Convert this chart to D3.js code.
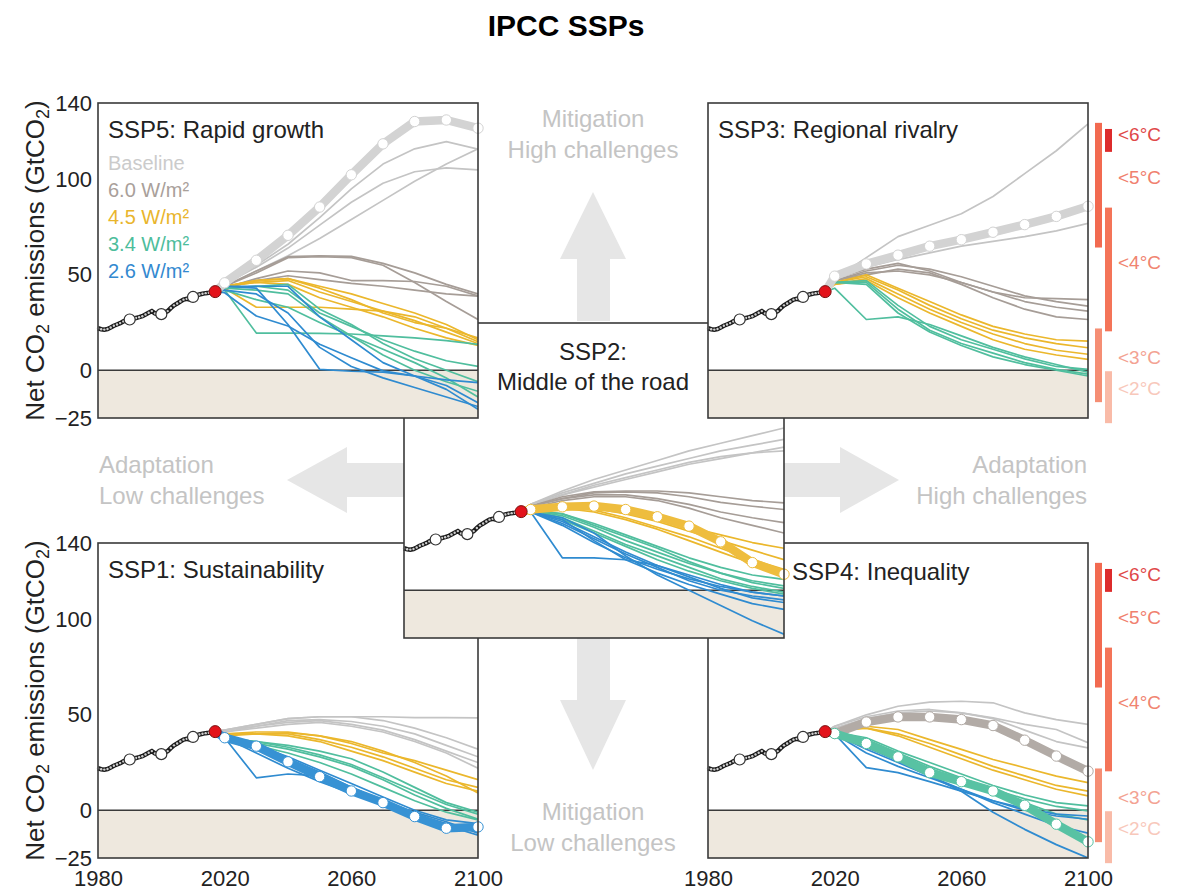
<!DOCTYPE html>
<html>
<head>
<meta charset="utf-8">
<script src="https://cdn.jsdelivr.net/npm/d3@7"></script>
<style>
  body { margin: 0; background: #fff; }
  svg { display: block; }
  text { font-family: 'Liberation Sans', Arial, sans-serif; }
</style>
</head>
<body>
<svg id="chart" width="1183" height="895"></svg>
<script>
// Data: decades of the scenario runs
const years = [2020, 2030, 2040, 2050, 2060, 2070, 2080, 2090, 2100];

// historical net CO2 (GtCO2), one value a year from 1980 to 2017
const histValues = [
    22.0, 21.5, 21.3, 21.6, 22.4, 23.3, 24.0, 24.7, 25.6, 26.2,
    26.6, 27.0, 27.4, 27.8, 28.3, 29.2, 30.1, 31.0, 29.8, 29.3,
    29.4, 30.1, 31.0, 32.6, 34.0, 35.0, 36.0, 37.0, 37.4, 37.0,
    38.4, 39.2, 39.7, 40.1, 40.4, 40.6, 40.9, 41.2
];
const histYears = histValues.map((v, i) => 1980 + i);
const histMarks = [1990, 2000, 2010];

const forcingKeys = ['base', '6.0', '4.5', '3.4', '2.6'];
const legendLabels = ['Baseline', '6.0 W/m²', '4.5 W/m²', '3.4 W/m²', '2.6 W/m²'];

const yTicks = [140, 100, 50, 0, -25];
const xTicks = [1980, 2020, 2060, 2100];

// m: 1 marks the highlighted (marker) pathway of the panel
const ssp5Rows = [
    { f: 'base', m: 1, v: [45.8, 57.6, 70.7, 85.5, 102.4, 118.6, 130.3, 131.1, 126.8] },
    { f: 'base', v: [45, 55, 66, 80, 95, 108, 116, 119.8, 115.8] },
    { f: 'base', v: [45, 54, 64, 76, 88, 98, 104, 106, 105] },
    { f: 'base', v: [44, 52, 60, 69, 79, 89, 99, 108, 116] },
    { f: '6.0', v: [44, 52, 59.5, 60, 59.7, 56, 51, 45, 40] },
    { f: '6.0', v: [44, 51, 59, 59.5, 59, 55, 46, 36, 26.6] },
    { f: '6.0', v: [43, 48, 52, 51, 47, 47, 46.5, 44, 39] },
    { f: '6.0', v: [43, 47, 49.5, 47.5, 45.5, 44, 42, 40, 38.8] },
    { f: '4.5', v: [44, 47, 48, 44, 40, 35, 30, 24, 16] },
    { f: '4.5', v: [44, 46, 47, 41, 36, 31, 26, 20, 14] },
    { f: '4.5', v: [43, 33, 33, 33, 32, 31, 28, 22, 15] },
    { f: '4.5', v: [44, 46, 45, 38, 33, 28, 22, 17, 13] },
    { f: '4.5', v: [44, 47, 48, 43, 37, 30, 25, 22, 17] },
    { f: '3.4', v: [42, 19.5, 19.5, 19.3, 19, 18, 17, 15.5, 13.6] },
    { f: '3.4', v: [43, 44, 42, 30, 23, 16, 10, 5, 2] },
    { f: '3.4', v: [43, 44, 45, 32, 24, 14, 6, 0, -6] },
    { f: '3.4', v: [43, 42, 40, 28, 18, 8, 0, -6, -11] },
    { f: '3.4', v: [42, 37, 33, 25, 18, 11, 4, -4, -14] },
    { f: '2.6', v: [40.6, 28.4, 23.2, 13.6, 6.6, -0.3, -3, -8, -17] },
    { f: '2.6', v: [44, 43, 24, 0.5, -0.5, -1, -3, -5, -6.5] },
    { f: '2.6', v: [44, 44, 44, 28, 16, 4, -3, -10, -20.4] },
    { f: '2.6', v: [42, 40, 30, 12, 2, -4, -9, -14, -19] }
];

const ssp3Rows = [
    { f: 'base', m: 1, v: [49.3, 55.7, 60.3, 65, 68.4, 72.3, 76.3, 80.6, 85.9] },
    { f: 'base', v: [48, 59, 70, 76, 82, 91, 103, 115, 129] },
    { f: 'base', v: [48, 54, 58, 61.5, 65, 67.5, 70, 73, 77] },
    { f: '6.0', v: [48, 53, 56, 52, 46, 41, 38, 37.5, 37] },
    { f: '6.0', v: [47, 52, 55, 53, 49, 44, 39, 36, 33.6] },
    { f: '6.0', v: [47, 51, 52, 50, 46, 41, 36, 33, 31] },
    { f: '6.0', v: [47, 50, 53, 51, 45, 38, 32, 28, 26.6] },
    { f: '4.5', v: [46, 50, 43, 36, 29, 23, 19, 16, 15.3] },
    { f: '4.5', v: [46, 49, 42, 34, 27, 21, 17, 14, 11.8] },
    { f: '4.5', v: [45, 48, 40, 32, 25, 19, 14, 10.5, 8.4] },
    { f: '4.5', v: [45, 47, 38, 30, 23, 16, 11, 8, 5.7] },
    { f: '3.4', v: [43, 26.6, 28, 24, 18, 12, 7, 3, -1] },
    { f: '3.4', v: [46, 47, 34, 23, 16, 11, 6, 2, 0.5] },
    { f: '3.4', v: [46, 46, 32, 21, 14, 9, 4, 0.5, -2] },
    { f: '3.4', v: [46, 45, 30, 20, 13, 7, 3, 0, -3] }
];

const ssp2Rows = [
    { f: 'base', v: [45, 52, 58, 63, 68, 73, 77, 81, 85] },
    { f: 'base', v: [45, 51, 56, 61, 65, 69, 73, 76, 79] },
    { f: 'base', v: [45, 50, 55, 59, 63, 67, 70, 72, 73] },
    { f: 'base', v: [44, 50, 54, 58, 62, 66, 69, 72, 75] },
    { f: '6.0', v: [44, 49, 51.5, 52, 52, 51, 49, 47, 45.8] },
    { f: '6.0', v: [44, 48, 51, 51.5, 51, 49, 46, 44, 42.3] },
    { f: '6.0', v: [44, 48, 50, 50, 48, 45, 41, 38, 35.4] },
    { f: '6.0', v: [43, 47, 49, 49, 47, 43, 38, 34, 30] },
    { f: '4.5', m: 1, v: [42.3, 43.7, 44.1, 42.3, 38.5, 33.6, 25.4, 14.5, 8.4] },
    { f: '4.5', v: [43, 44, 43, 40, 36, 31, 26, 21, 16] },
    { f: '4.5', v: [43, 44, 42, 38, 33, 28, 22, 16, 11] },
    { f: '4.5', v: [42, 43, 41, 37, 32, 26, 20, 14, 9] },
    { f: '4.5', v: [43, 45, 44, 41, 37, 33, 29, 25, 22] },
    { f: '3.4', v: [42, 40, 35, 29, 23, 17, 12, 8, 5.7] },
    { f: '3.4', v: [42, 39, 33, 26, 20, 14, 9, 5, 2.3] },
    { f: '3.4', v: [42, 38, 31, 24, 18, 12, 6, 2, -1] },
    { f: '3.4', v: [42, 40, 34, 28, 22, 15, 9, 4, 1] },
    { f: '3.4', v: [41, 37, 30, 23, 16, 10, 5, 1, -2] },
    { f: '2.6', v: [41, 17, 17, 16, 13, 8, 3, -1, -3] },
    { f: '2.6', v: [41, 36, 28, 20, 13, 7, 1, -4, -6.4] },
    { f: '2.6', v: [41, 37, 26, 16, 9, 3, -2, -7, -10] },
    { f: '2.6', v: [41, 38, 30, 18, 8, 0, -8, -16, -23] },
    { f: '2.6', v: [41, 34, 25, 17, 11, 6, 2, -1, -3] },
    { f: '2.6', v: [41, 35, 27, 19, 12, 5, 0, -3, -5] }
];

const ssp1Rows = [
    { f: 'base', v: [42, 45, 48, 49, 49, 49, 48.5, 48.5, 48.4] },
    { f: 'base', v: [42, 45, 48, 49, 49, 47, 43, 38, 32] },
    { f: 'base', v: [42, 44, 47, 47.5, 46.5, 44, 40, 34, 28] },
    { f: 'base', v: [41, 44, 46, 47, 45, 42, 37, 31, 25] },
    { f: 'base', v: [41, 43, 45, 46, 44, 41, 36, 30, 22] },
    { f: '4.5', v: [40, 40, 40.6, 39, 36, 31, 25, 18, 9] },
    { f: '4.5', v: [40, 41, 41, 39, 35, 30, 26, 21, 16] },
    { f: '4.5', v: [39, 40, 40, 37, 33, 28, 22, 16, 12] },
    { f: '4.5', v: [40, 40, 39, 36, 31, 26, 20, 14, 10] },
    { f: '3.4', v: [38, 36, 34, 31, 27, 20, 12, 4, -1] },
    { f: '3.4', v: [38, 35, 32, 28, 23, 16, 8, 1, -4.7] },
    { f: '3.4', v: [38, 36, 33, 29, 24, 17, 10, 3, -2] },
    { f: '3.4', v: [38, 34, 30, 25, 19, 12, 5, -1, -5] },
    { f: '2.6', m: 1, v: [38, 33.6, 25.4, 17.6, 10.1, 4, -3.3, -9.4, -8.7] },
    { f: '2.6', v: [38, 17, 19, 18, 12, 5, -2, -7, -10] },
    { f: '2.6', v: [38, 33, 27, 20, 12, 5, -1, -6, -12] },
    { f: '2.6', v: [38, 30, 22, 15, 9, 3, -3, -8, -13] },
    { f: '2.6', v: [38, 34, 28, 21, 14, 7, 0, -5, -7] }
];

const ssp4Rows = [
    { f: 'base', v: [44, 50, 54.5, 56.6, 57.1, 56.3, 51, 47.5, 45] },
    { f: 'base', v: [44, 49, 52, 52.8, 51, 48.4, 45, 42.3, 35.4] },
    { f: 'base', v: [43, 48, 51, 52, 51, 48, 42, 36, 32.7] },
    { f: '6.0', m: 1, v: [40.2, 46.2, 48.9, 48.9, 47.5, 44.4, 36.7, 28.4, 20.5] },
    { f: '4.5', v: [42, 44, 42.3, 37, 31.9, 26.6, 22.3, 17.9, 14.5] },
    { f: '4.5', v: [42, 43, 39, 33, 27, 21, 16, 11, 7.5] },
    { f: '4.5', v: [42, 43, 40, 35, 29, 23, 18, 13, 10] },
    { f: '3.4', m: 1, v: [40.2, 35, 28, 19.7, 15, 10.1, 2.6, -7.3, -16.5] },
    { f: '3.4', v: [41, 38, 31, 25, 19, 13, 8, 4, 2.3] },
    { f: '3.4', v: [41, 37, 30, 23, 17, 11, 6, 2, -0.3] },
    { f: '3.4', v: [41, 36, 29, 22, 16, 10, 4, -2, -5] },
    { f: '2.6', v: [40, 22.3, 19.7, 15, 10, 5, 1, -2, -3] },
    { f: '2.6', v: [40, 30, 23, 17, 11, 5, 0, -3, -4.7] },
    { f: '2.6', v: [40, 32, 25, 18, 11, 4, -2, -8, -12] },
    { f: '2.6', v: [40, 33, 26, 18, 10, -1, -10, -18, -25] }
];

// warming bands on the emission scale (GtCO2), highest class first
const tempOrder = ['<6°C', '<5°C', '<4°C', '<3°C', '<2°C'];
const tempBarHigh = [126.4, 129.6, 85.2, 21.9, -0.5];
const tempBarLow = [114.4, 64.3, 20.4, -16.7, -27.7];
const tempLabelAt = [123.8, 100.8, 56.4, 6.8, -9.4];

// Styles
const colors = { 'base': '#c4c4c4', '6.0': '#a69d97', '4.5': '#ebb72c', '3.4': '#50be9e', '2.6': '#2f8bd0' };
const markerColors = { 'base': '#d3d3d3', '6.0': '#b2aba6', '4.5': '#eebd3e', '3.4': '#58c2a3', '2.6': '#3792d4' };
const legendColors = { 'base': '#cbcbcb', '6.0': '#a9a09a', '4.5': '#e9b52c', '3.4': '#4dbd9c', '2.6': '#3389d0' };
const tempBarColors = { '<6°C': '#dd2b2b', '<5°C': '#f26a50', '<4°C': '#f47458', '<3°C': '#f58e74', '<2°C': '#f9bba8' };
const tempTextColors = { '<6°C': '#e04848', '<5°C': '#f0806e', '<4°C': '#f08470', '<3°C': '#f3a292', '<2°C': '#f8c8bb' };

const svg = d3.select('#chart');
const pw = 380, ph = 315;

const x = d3.scaleLinear().domain([1980, 2100]).range([0, pw]);
const y = d3.scaleLinear().domain([-25, 140]).range([ph, 0]);
const line = d3.line().x(d => x(d[0])).y(d => y(d[1]));

const hist = histYears.map((yr, i) => [yr, histValues[i]]);
const start = hist[hist.length - 1];
const rowPoints = r => [start, ...years.map((yr, i) => [yr, r.v[i]])];

// Big arrows in the gaps
const arrowColor = '#e6e6e6';
const arrows = [
    [[577, 321], [577, 259], [560, 259], [593, 192], [626, 259], [610, 259], [610, 321]],
    [[577, 637], [577, 700], [560, 700], [593, 770], [626, 700], [610, 700], [610, 637]],
    [[405, 463], [347, 463], [347, 447], [287, 480], [347, 513], [347, 497], [405, 497]],
    [[782, 463], [840, 463], [840, 447], [899, 480], [840, 513], [840, 497], [782, 497]]
];
svg.selectAll('polygon.arrow').data(arrows).enter().append('polygon')
    .attr('class', 'arrow')
    .attr('points', d => d.map(p => p.join(',')).join(' '))
    .attr('fill', arrowColor);

const arrowText = [
    { t: 'Mitigation', x: 593, y: 127, a: 'middle' },
    { t: 'High challenges', x: 593, y: 158, a: 'middle' },
    { t: 'Mitigation', x: 593, y: 820, a: 'middle' },
    { t: 'Low challenges', x: 593, y: 851, a: 'middle' },
    { t: 'Adaptation', x: 99, y: 473, a: 'start' },
    { t: 'Low challenges', x: 99, y: 504, a: 'start' },
    { t: 'Adaptation', x: 1087, y: 473, a: 'end' },
    { t: 'High challenges', x: 1087, y: 504, a: 'end' }
];
svg.selectAll('text.arrow-label').data(arrowText).enter().append('text')
    .attr('class', 'arrow-label')
    .attr('x', d => d.x).attr('y', d => d.y)
    .attr('text-anchor', d => d.a)
    .attr('font-size', 24)
    .attr('fill', '#c4c4c4')
    .text(d => d.t);

function drawPanel(id, tx, ty, rows) {
    const g = svg.append('g').attr('transform', `translate(${tx},${ty})`);

    g.append('rect').attr('width', pw).attr('height', ph).attr('fill', '#fff');
    g.append('rect')
        .attr('y', y(0)).attr('width', pw).attr('height', y(-25) - y(0))
        .attr('fill', '#eee8de');
    g.append('line')
        .attr('x1', 0).attr('x2', pw).attr('y1', y(0)).attr('y2', y(0))
        .attr('stroke', '#3a3a3a').attr('stroke-width', 1.5);

    g.append('clipPath').attr('id', 'clip-' + id)
        .append('rect').attr('width', pw).attr('height', ph);

    const lines = g.append('g').attr('clip-path', `url(#clip-${id})`);
    forcingKeys.forEach(k => {
        lines.selectAll(null)
            .data(rows.filter(r => r.f === k && !r.m))
            .enter().append('path')
            .attr('d', r => line(rowPoints(r)))
            .attr('fill', 'none')
            .attr('stroke', colors[k])
            .attr('stroke-width', 1.7)
            .attr('stroke-linejoin', 'round');
    });

    // marker pathways: thick band with white dots each decade
    rows.filter(r => r.m).forEach(r => {
        g.append('path')
            .attr('d', line(rowPoints(r)))
            .attr('fill', 'none')
            .attr('stroke', markerColors[r.f])
            .attr('stroke-width', 8.5)
            .attr('stroke-linejoin', 'round')
            .attr('stroke-linecap', 'round');
        g.selectAll(null)
            .data(years.map((yr, i) => [yr, r.v[i]]))
            .enter().append('circle')
            .attr('cx', d => x(d[0])).attr('cy', d => y(d[1]))
            .attr('r', 5.2)
            .attr('fill', '#fff')
            .attr('stroke', markerColors[r.f])
            .attr('stroke-width', 1);
    });

    // history
    g.append('path')
        .attr('d', line(hist))
        .attr('fill', 'none')
        .attr('stroke', '#1c1c1c')
        .attr('stroke-width', 4.5);
    g.selectAll(null).data(hist).enter().append('circle')
        .attr('cx', d => x(d[0])).attr('cy', d => y(d[1]))
        .attr('r', 1.2)
        .attr('fill', '#cfcfcf');
    g.selectAll(null).data(hist.filter(d => histMarks.includes(d[0]))).enter().append('circle')
        .attr('cx', d => x(d[0])).attr('cy', d => y(d[1]))
        .attr('r', 5.5)
        .attr('fill', '#fff')
        .attr('stroke', '#333')
        .attr('stroke-width', 1.2);
    g.append('circle')
        .attr('cx', x(start[0])).attr('cy', y(start[1]))
        .attr('r', 6)
        .attr('fill', '#e3131b')
        .attr('stroke', '#7a1010')
        .attr('stroke-width', 1);

    g.append('rect')
        .attr('width', pw).attr('height', ph)
        .attr('fill', 'none')
        .attr('stroke', '#3a3a3a')
        .attr('stroke-width', 1.6);

    return g;
}

function panelTitle(g, t) {
    g.append('text')
        .attr('x', 10).attr('y', 35)
        .attr('font-size', 24)
        .attr('fill', '#222')
        .text(t);
}

function yAxis(g) {
    const ax = g.append('g')
        .call(d3.axisLeft(y).tickValues(yTicks).tickSize(0).tickPadding(6));
    ax.select('.domain').remove();
    ax.selectAll('text')
        .attr('font-size', 22)
        .attr('font-family', "'Liberation Sans', Arial, sans-serif")
        .attr('fill', '#222');
}

function xAxis(g) {
    const ax = g.append('g')
        .attr('transform', `translate(0,${ph})`)
        .call(d3.axisBottom(x).tickValues(xTicks).tickSize(0).tickPadding(12).tickFormat(d3.format('d')));
    ax.select('.domain').remove();
    ax.selectAll('text')
        .attr('font-size', 22)
        .attr('font-family', "'Liberation Sans', Arial, sans-serif")
        .attr('fill', '#222');
}

function tempScale(g) {
    const colX = [387, 397];
    g.selectAll(null).data(tempOrder).enter().append('rect')
        .attr('x', (d, i) => colX[i % 2 === 0 ? 1 : 0])
        .attr('y', (d, i) => y(tempBarHigh[i]))
        .attr('width', 7)
        .attr('height', (d, i) => y(tempBarLow[i]) - y(tempBarHigh[i]))
        .attr('fill', d => tempBarColors[d]);
    g.selectAll(null).data(tempOrder).enter().append('text')
        .attr('x', 410)
        .attr('y', (d, i) => y(tempLabelAt[i]))
        .attr('dy', '0.35em')
        .attr('font-size', 19)
        .attr('fill', d => tempTextColors[d])
        .text(d => d);
}

// bottom row first, then the centre panel, then the top row over it
const g1 = drawPanel('ssp1', 98, 543, ssp1Rows);
panelTitle(g1, 'SSP1: Sustainability');
yAxis(g1);
xAxis(g1);

const g4 = drawPanel('ssp4', 708, 543, ssp4Rows);
g4.append('text')
    .attr('x', 84).attr('y', 37)
    .attr('font-size', 24)
    .attr('fill', '#222')
    .text('SSP4: Inequality');
xAxis(g4);
tempScale(g4);

const g2 = drawPanel('ssp2', 404, 323, ssp2Rows);
g2.append('text')
    .attr('x', 189).attr('y', 37)
    .attr('text-anchor', 'middle')
    .attr('font-size', 24).attr('fill', '#222')
    .text('SSP2:');
g2.append('text')
    .attr('x', 189).attr('y', 67)
    .attr('text-anchor', 'middle')
    .attr('font-size', 24).attr('fill', '#222')
    .text('Middle of the road');

const g5 = drawPanel('ssp5', 98, 103, ssp5Rows);
panelTitle(g5, 'SSP5: Rapid growth');
yAxis(g5);
g5.selectAll('text.legend').data(forcingKeys).enter().append('text')
    .attr('class', 'legend')
    .attr('x', 10)
    .attr('y', (d, i) => 67 + i * 27)
    .attr('font-size', 20)
    .attr('fill', d => legendColors[d])
    .text((d, i) => legendLabels[i]);

const g3 = drawPanel('ssp3', 708, 103, ssp3Rows);
panelTitle(g3, 'SSP3: Regional rivalry');
tempScale(g3);

// y axis titles
[103, 543].forEach(ty => {
    const t = svg.append('text')
        .attr('transform', `translate(44,${ty + ph / 2}) rotate(-90)`)
        .attr('text-anchor', 'middle')
        .attr('font-size', 26)
        .attr('fill', '#222');
    t.append('tspan').text('Net CO');
    t.append('tspan').attr('font-size', 18).attr('dy', 5).text('2');
    t.append('tspan').attr('dy', -5).text(' emissions (GtCO');
    t.append('tspan').attr('font-size', 18).attr('dy', 5).text('2');
    t.append('tspan').attr('dy', -5).text(')');
});

svg.append('text')
    .attr('x', 566).attr('y', 36)
    .attr('text-anchor', 'middle')
    .attr('font-size', 30)
    .attr('font-weight', 'bold')
    .attr('fill', '#000')
    .text('IPCC SSPs');
</script>
</body>
</html>
